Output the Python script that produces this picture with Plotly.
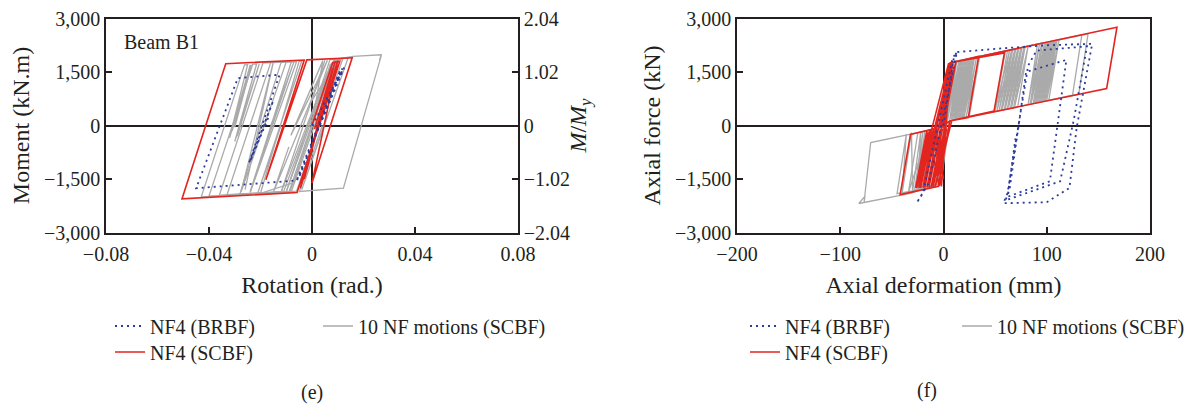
import plotly.graph_objects as go

# ---------------- (e) Beam B1: rotation (rad) vs moment (kN.m) ----------------
rot_red = [0, 0.0080, 0.0108, -0.0058, -0.0505, -0.0335, -0.0030, -0.0179, -0.0020, 0.0156,
           0.0000, 0.0100, -0.0045, 0.0090, -0.0030, 0.0080, 0.0010]
mom_red = [0, 1760, 1800, -1877, -2058, 1731, 1836, -1523, 1840, 1900,
           -1615, 1820, -1760, 1800, -1500, 1600, -100]

rot_blue = [0, 0.0125, -0.0061, 0.0110, -0.0050, 0.0118, -0.0058, -0.0450, -0.0288, -0.0126,
            -0.0245, -0.0150, -0.0240, -0.0165]
mom_blue = [0, 1620, -1568, 1560, -1450, 1600, -1540, -1760, 1329, 1423,
            -1060, 700, -1000, 300]

rot_gray = [
    [0, 0.0085, 0.0159, 0.0269, 0.0262, 0.0269, 0.0122, -0.0049, 0.0040],
    [0, 0.0080, -0.0090, -0.0430, -0.0262, -0.0250, -0.0320, -0.0240, -0.0310, -0.0235, -0.0300],
    [0, 0.0075, -0.0100, -0.0400, -0.0230, -0.0215, -0.0300, -0.0205, -0.0290],
    [0, 0.0070, -0.0110, -0.0360, -0.0190, -0.0100, -0.0275, -0.0150, -0.0260],
    [0, 0.0060, -0.0120, -0.0330, -0.0160, -0.0080, -0.0240, -0.0070, -0.0160],
    [0, 0.0090, 0.0120, -0.0060, -0.0100, 0.0070, 0.0140, -0.0040, 0.0060],
    [0, 0.0070, 0.0100, -0.0080, -0.0120, 0.0050, 0.0000, 0.0100, 0.0020],
    [0, 0.0042, -0.0082, 0.0060, -0.0150, -0.0090],
    [0, 0.0080, -0.0070, -0.0200, -0.0050, -0.0040, -0.0210, -0.0120],
    [0, 0.0060, 0.0090, -0.0085, -0.0280, -0.0120, -0.0060, -0.0240, -0.0180],
]
mom_gray = [
    [0, 1850, 1936, 1983, 1830, 1960, -1755, -1848, 0],
    [0, 1760, -1880, -2000, 1700, 1705, -350, 1700, -150, 1700, -50],
    [0, 1700, -1860, -1980, 1720, 1725, -450, 1725, -300],
    [0, 1650, -1850, -1960, 1760, 1780, -1850, 1780, -1800],
    [0, 1500, -1870, -1940, 1770, 1790, -1850, 1790, 0],
    [0, 1800, 1880, -1840, -1860, 1850, 1890, -1800, 300],
    [0, 1700, 1870, -1850, -1870, 1830, 700, 1860, 0],
    [0, 1819, -277, 1830, -1870, -600],
    [0, 1750, -1600, -1900, 1800, 1800, -1880, 0],
    [0, 1400, 1860, -1850, -1920, 1770, 1790, -1880, -600],
]

# ---------------- (f) Brace: axial deformation (mm) vs axial force (kN) ----------------
def_red = [0, 6, 34, 24, 6, -5, -42, -32, -7, 8, 59, 49, 8,
           -8, 3, -12, -1, -16, -5, -20, -9, -24, -13, -27, -16, -22, -11, -18, -7, -14, -3, -10, 1,
           -6, 5, -26, -15, -4, 6, -19, -8, -2, 7, -23, -12, 0,
           -7, 5, -3, 9, 0, 12, -5, 7, 168, 158, 6, 0]
frc_red = [0, 1750, 1939, 220, 127, -1704, -1938, -248, -79, 1770, 2033, 408, 140,
           -1720, -90, -1730, -95, -1735, -100, -1740, -100, -1745, -110, -1750, -120, -1745, -105, -1740, -100, -1735, -95, -1730, -90,
           -1300, 1750, -1750, -200, -1700, 1760, -1740, -150, -1710, 1770, -1745, -180, -1500,
           -150, 1750, -80, 1760, -50, 1780, -120, 1760, 2755, 1037, 127, 0]

def_blue = [0, 10, 13, -14, -26, -20, 9, 13, 60, 100, 144, 129, 122, 100, 58, 62, 82, 90, 139,
            126, 113, 60, 64, 80, 119, 110, 103, 62, 70]
frc_blue = [0, 1900, 2060, -1600, -2170, -1900, 1900, 2060, 2170, 2250, 2290, -60, -1750, -2150, -2180, -1900, 1680, 2100, 2220,
            127, -1563, -2100, -1800, 1500, 1840, -155, -1563, -2000, -300]

def_gray = [
    [0, 6, 12, 3, -6, -32, -82, -76, -77, -70.5, -32, -10, 2],
    [0, 7, 140, 131, 6, -2, 9, 134, 125, 40],
    [0, 8, 16, 7, 18, 9, 20, 11, 22, 12, 24, 14, 26, 16, 28, 18, 30, 20, 32, 22, 35, 25],
    [0, 7, 60, 50, 64, 54, 67, 57, 70, 60, 73, 63, 76, 66, 79, 69, 82, 72],
    [0, 7, 95, 85, 98, 88, 100, 90, 102, 92, 104, 94, 106, 96, 108, 98, 110, 100, 112, 102],
    [0, 6, -5, -45, -36, -40, -31, -30, -22, -25, -15, -20, -11],
    [0, 7, 13, 4, 15, 6, 17, 8, 19, 10, 21, 12, 23, 13, 25, 15, 27, 17, 29, 19],
    [0, 7, 91, 82, 93, 84, 96, 87, 99, 89, 101, 91, 103, 93, 105, 95, 107, 97, 109, 99],
    [0, 7, 62, 52, 66, 56, 69, 59, 72, 62, 75, 65, 78, 68],
    [0, 5, -8, -28, -20, -26, -18, -24, -16, -22, -14, -34, -25],
]
frc_gray = [
    [0, 1700, 1780, 130, -1650, -1900, -2187, -1980, -2165, -477, -243, -110, 200],
    [0, 1760, 2570, 880, 130, -1500, 1780, 2540, 850, 330],
    [0, 1780, 1830, 170, 1840, 180, 1850, 190, 1860, 195, 1870, 205, 1880, 215, 1890, 225, 1900, 235, 1910, 245, 1930, 260],
    [0, 1760, 2090, 420, 2110, 440, 2130, 460, 2150, 480, 2170, 500, 2190, 515, 2210, 535, 2230, 550],
    [0, 1760, 2310, 625, 2330, 640, 2340, 650, 2350, 660, 2365, 675, 2380, 685, 2390, 700, 2400, 710, 2415, 720],
    [0, 1750, -1700, -1910, -240, -1880, -200, -1860, -180, -1830, -150, -1800, -120],
    [0, 1780, 1815, 150, 1825, 160, 1835, 170, 1845, 180, 1855, 195, 1865, 200, 1875, 210, 1885, 220, 1895, 230],
    [0, 1760, 2280, 600, 2290, 610, 2310, 625, 2330, 640, 2340, 650, 2350, 660, 2365, 675, 2375, 685, 2390, 695],
    [0, 1760, 2100, 430, 2120, 450, 2140, 470, 2160, 490, 2180, 505, 2200, 525],
    [0, 1700, -1650, -1820, -170, -1800, -150, -1790, -140, -1770, -120, -1880, -230],
]

moment_ticks = [-3000, -1500, 0, 1500, 3000]
moment_text = ["\u22123,000", "\u22121,500", "0", "1,500", "3,000"]
rot_ticks = [-0.08, -0.04, 0, 0.04, 0.08]
rot_text = ["\u22120.08", "\u22120.04", "0", "0.04", "0.08"]
ratio_ticks = [-2.04, -1.02, 0, 1.02, 2.04]
ratio_text = ["\u22122.04", "\u22121.02", "0", "1.02", "2.04"]
def_ticks = [-200, -100, 0, 100, 200]
def_text = ["\u2212200", "\u2212100", "0", "100", "200"]

RED = "#E3241F"
BLUE = "#2B3C9B"
GRAY = "#AAAAAA"
INK = "#231F20"
FONT = "Liberation Serif"
DOTS = "2px,4px"

fig = go.Figure()

# left panel
for i, (xs, ys) in enumerate(zip(rot_gray, mom_gray)):
    fig.add_trace(go.Scatter(x=xs, y=ys, mode="lines", line=dict(color=GRAY, width=1.3),
                             name="10 NF motions (SCBF)", legendgroup="gL", showlegend=(i == 0),
                             legend="legend2", xaxis="x", yaxis="y"))
fig.add_trace(go.Scatter(x=rot_red, y=mom_red, mode="lines", line=dict(color=RED, width=1.6),
                         name="NF4 (SCBF)", legend="legend3", xaxis="x", yaxis="y"))
fig.add_trace(go.Scatter(x=rot_blue, y=mom_blue, mode="lines", line=dict(color=BLUE, width=1.8, dash=DOTS),
                         name="NF4 (BRBF)", legend="legend", xaxis="x", yaxis="y"))
fig.add_trace(go.Scatter(x=[None], y=[None], mode="lines", showlegend=False, hoverinfo="skip",
                         xaxis="x", yaxis="y3"))

# right panel
for i, (xs, ys) in enumerate(zip(def_gray, frc_gray)):
    fig.add_trace(go.Scatter(x=xs, y=ys, mode="lines", line=dict(color=GRAY, width=1.3),
                             name="10 NF motions (SCBF)", legendgroup="gR", showlegend=(i == 0),
                             legend="legend5", xaxis="x2", yaxis="y2"))
fig.add_trace(go.Scatter(x=def_red, y=frc_red, mode="lines", line=dict(color=RED, width=1.6),
                         name="NF4 (SCBF)", legend="legend6", xaxis="x2", yaxis="y2"))
fig.add_trace(go.Scatter(x=def_blue, y=frc_blue, mode="lines", line=dict(color=BLUE, width=1.8, dash=DOTS),
                         name="NF4 (BRBF)", legend="legend4", xaxis="x2", yaxis="y2"))

W, H = 1194, 409
ydom = [1 - 232.5 / H, 1 - 18.5 / H]

axis_common = dict(showline=True, linecolor=INK, linewidth=1.5, mirror=True, ticks="inside",
                   ticklen=6, tickwidth=1.5, tickcolor=INK, showgrid=False, zeroline=True,
                   zerolinecolor=INK, zerolinewidth=1.5, automargin=False,
                   tickfont=dict(family=FONT, size=20, color=INK))

legend_common = dict(xanchor="left", yanchor="middle", bgcolor="rgba(0,0,0,0)",
                     font=dict(family=FONT, size=20, color=INK), tracegroupgap=0)
ROW1 = 1 - 326 / H
ROW2 = 1 - 352 / H

fig.update_layout(
    width=W, height=H, margin=dict(l=0, r=0, t=0, b=0, autoexpand=False),
    plot_bgcolor="white", paper_bgcolor="white",
    font=dict(family=FONT, size=20, color=INK),
    xaxis=dict(domain=[106 / W, 518 / W], range=[-0.08, 0.08], tickvals=rot_ticks, ticktext=rot_text,
               anchor="y", ticklabelstandoff=3, title=dict(text="Rotation (rad.)", standoff=12), **axis_common),
    yaxis=dict(domain=ydom, range=[-3000, 3000], tickvals=moment_ticks, ticktext=moment_text,
               anchor="x", title=dict(text="Moment (kN.m)", standoff=8), **axis_common),
    yaxis3=dict(overlaying="y", side="right", anchor="x", range=[-2.04, 2.04], tickvals=ratio_ticks,
                ticktext=ratio_text, showline=True, linecolor=INK, linewidth=1.5, ticks="inside",
                ticklen=6, tickwidth=1.5, tickcolor=INK, showgrid=False, zeroline=False, automargin=False,
                tickfont=dict(family=FONT, size=20, color=INK),
                title=dict(text="<i>M</i>/<i>M</i><sub><i>y</i></sub>", standoff=0)),
    xaxis2=dict(domain=[737 / W, 1150 / W], range=[-200, 200], tickvals=def_ticks, ticktext=def_text,
                anchor="y2", ticklabelstandoff=3, title=dict(text="Axial deformation (mm)", standoff=12), **axis_common),
    yaxis2=dict(domain=ydom, range=[-3000, 3000], tickvals=moment_ticks, ticktext=moment_text,
                anchor="x2", title=dict(text="Axial force (kN)", standoff=8), **axis_common),
    legend=dict(x=110 / W, y=ROW1, **legend_common),
    legend2=dict(x=318 / W, y=ROW1, **legend_common),
    legend3=dict(x=110 / W, y=ROW2, **legend_common),
    legend4=dict(x=745 / W, y=ROW1, **legend_common),
    legend5=dict(x=957 / W, y=ROW1, **legend_common),
    legend6=dict(x=745 / W, y=ROW2, **legend_common),
    annotations=[
        dict(text="Beam B1", x=122 / W, y=1 - 42 / H, xref="paper", yref="paper", xanchor="left",
             yanchor="middle", showarrow=False, font=dict(family=FONT, size=20, color=INK)),
        dict(text="(e)", x=312 / W, y=1 - 392 / H, xref="paper", yref="paper", xanchor="center",
             yanchor="middle", showarrow=False, font=dict(family=FONT, size=20, color=INK)),
        dict(text="(f)", x=927 / W, y=1 - 390 / H, xref="paper", yref="paper", xanchor="center",
             yanchor="middle", showarrow=False, font=dict(family=FONT, size=20, color=INK)),
    ],
)

fig.write_html("out.html")
